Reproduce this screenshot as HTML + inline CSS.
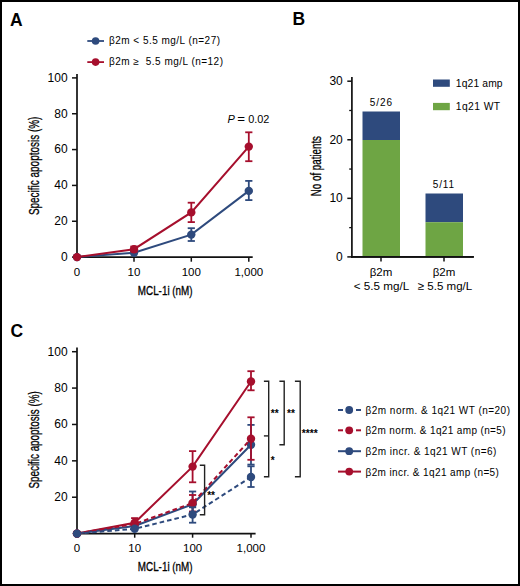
<!DOCTYPE html>
<html><head><meta charset="utf-8"><style>
html,body{margin:0;padding:0;background:#fff;}
#wrap{position:relative;width:520px;height:586px;overflow:hidden;background:#fff;}
#bd{position:absolute;left:0;top:0;width:516px;height:582px;border:2px solid #000;}
svg{position:absolute;left:0;top:0;}
text{font-family:"Liberation Sans", sans-serif;}
</style></head><body><div id="wrap"><div id="bd"></div>
<svg width="520" height="586" viewBox="0 0 520 586">
<text x="10" y="26" font-size="17.5" text-anchor="start" font-weight="bold" font-style="normal" fill="#000" >A</text>
<line x1="87.3" y1="41" x2="104" y2="41" stroke="#2e4a7d" stroke-width="1.8"/>
<circle cx="95.6" cy="41" r="3.8" fill="#2e4a7d"/>
<text x="109" y="44.2" font-size="10" text-anchor="start" font-weight="normal" font-style="normal" fill="#000" textLength="111" lengthAdjust="spacing" >β2m &lt; 5.5 mg/L (n=27)</text>
<line x1="87.3" y1="62.1" x2="104" y2="62.1" stroke="#a60f2d" stroke-width="1.8"/>
<circle cx="95.6" cy="62.1" r="3.8" fill="#a60f2d"/>
<text x="109" y="64.6" font-size="10" text-anchor="start" font-weight="normal" font-style="normal" fill="#000" textLength="114" lengthAdjust="spacing" >β2m ≥&#160; 5.5 mg/L (n=12)</text>
<line x1="77.0" y1="74" x2="77.0" y2="257.95000000000005" stroke="#111" stroke-width="1.7"/>
<line x1="76.15" y1="257.1" x2="252.7" y2="257.1" stroke="#111" stroke-width="1.7"/>
<line x1="72" y1="257.1" x2="77.0" y2="257.1" stroke="#111" stroke-width="1.5"/>
<text x="67.6" y="261.0" font-size="12" text-anchor="end" font-weight="normal" font-style="normal" fill="#000" >0</text>
<line x1="72" y1="221.26000000000002" x2="77.0" y2="221.26000000000002" stroke="#111" stroke-width="1.5"/>
<text x="67.6" y="225.16000000000003" font-size="12" text-anchor="end" font-weight="normal" font-style="normal" fill="#000" >20</text>
<line x1="72" y1="185.42000000000002" x2="77.0" y2="185.42000000000002" stroke="#111" stroke-width="1.5"/>
<text x="67.6" y="189.32000000000002" font-size="12" text-anchor="end" font-weight="normal" font-style="normal" fill="#000" >40</text>
<line x1="72" y1="149.58000000000004" x2="77.0" y2="149.58000000000004" stroke="#111" stroke-width="1.5"/>
<text x="67.6" y="153.48000000000005" font-size="12" text-anchor="end" font-weight="normal" font-style="normal" fill="#000" >60</text>
<line x1="72" y1="113.74000000000001" x2="77.0" y2="113.74000000000001" stroke="#111" stroke-width="1.5"/>
<text x="67.6" y="117.64000000000001" font-size="12" text-anchor="end" font-weight="normal" font-style="normal" fill="#000" >80</text>
<line x1="72" y1="77.9" x2="77.0" y2="77.9" stroke="#111" stroke-width="1.5"/>
<text x="67.6" y="81.80000000000001" font-size="12" text-anchor="end" font-weight="normal" font-style="normal" fill="#000" >100</text>
<text x="77.0" y="276.1" font-size="11.5" text-anchor="middle" font-weight="normal" font-style="normal" fill="#000" >0</text>
<line x1="134" y1="257.1" x2="134" y2="261.7" stroke="#111" stroke-width="1.5"/>
<text x="134" y="276.1" font-size="11.5" text-anchor="middle" font-weight="normal" font-style="normal" fill="#000" >10</text>
<line x1="191.3" y1="257.1" x2="191.3" y2="261.7" stroke="#111" stroke-width="1.5"/>
<text x="191.3" y="276.1" font-size="11.5" text-anchor="middle" font-weight="normal" font-style="normal" fill="#000" >100</text>
<line x1="248.8" y1="257.1" x2="248.8" y2="261.7" stroke="#111" stroke-width="1.5"/>
<text x="248.8" y="276.1" font-size="11.5" text-anchor="middle" font-weight="normal" font-style="normal" fill="#000" >1,000</text>
<text x="165.2" y="295.2" font-size="13" text-anchor="middle" font-weight="normal" font-style="normal" fill="#000" textLength="54.8" lengthAdjust="spacingAndGlyphs"  stroke="#000" stroke-width="0.3">MCL-1i (nM)</text>
<text transform="translate(39.0,165.85) rotate(-90)" x="0" y="0" font-size="14" stroke="#000" stroke-width="0.3" text-anchor="middle" fill="#000" textLength="98.5" lengthAdjust="spacingAndGlyphs">Specific apoptosis (%)</text>
<line x1="191.3" y1="228.2" x2="191.3" y2="241" stroke="#2e4a7d" stroke-width="1.8"/>
<line x1="187.70000000000002" y1="228.2" x2="194.9" y2="228.2" stroke="#2e4a7d" stroke-width="1.8"/>
<line x1="187.70000000000002" y1="241" x2="194.9" y2="241" stroke="#2e4a7d" stroke-width="1.8"/>
<line x1="248.8" y1="180.9" x2="248.8" y2="200.1" stroke="#2e4a7d" stroke-width="1.8"/>
<line x1="245.20000000000002" y1="180.9" x2="252.4" y2="180.9" stroke="#2e4a7d" stroke-width="1.8"/>
<line x1="245.20000000000002" y1="200.1" x2="252.4" y2="200.1" stroke="#2e4a7d" stroke-width="1.8"/>
<polyline points="77.0,257.1 134,252.7 191.3,234.6 248.8,190.9" fill="none" stroke="#2e4a7d" stroke-width="2"/>
<circle cx="77.0" cy="257.1" r="4.2" fill="#2e4a7d"/>
<circle cx="134" cy="252.7" r="4.2" fill="#2e4a7d"/>
<circle cx="191.3" cy="234.6" r="4.2" fill="#2e4a7d"/>
<circle cx="248.8" cy="190.9" r="4.2" fill="#2e4a7d"/>
<line x1="134" y1="246.5" x2="134" y2="251.5" stroke="#a60f2d" stroke-width="1.8"/>
<line x1="130.4" y1="246.5" x2="137.6" y2="246.5" stroke="#a60f2d" stroke-width="1.8"/>
<line x1="130.4" y1="251.5" x2="137.6" y2="251.5" stroke="#a60f2d" stroke-width="1.8"/>
<line x1="191.3" y1="202.7" x2="191.3" y2="222.1" stroke="#a60f2d" stroke-width="1.8"/>
<line x1="187.70000000000002" y1="202.7" x2="194.9" y2="202.7" stroke="#a60f2d" stroke-width="1.8"/>
<line x1="187.70000000000002" y1="222.1" x2="194.9" y2="222.1" stroke="#a60f2d" stroke-width="1.8"/>
<line x1="248.8" y1="132.3" x2="248.8" y2="161.2" stroke="#a60f2d" stroke-width="1.8"/>
<line x1="245.20000000000002" y1="132.3" x2="252.4" y2="132.3" stroke="#a60f2d" stroke-width="1.8"/>
<line x1="245.20000000000002" y1="161.2" x2="252.4" y2="161.2" stroke="#a60f2d" stroke-width="1.8"/>
<polyline points="77.0,257.1 134,249.2 191.3,212.4 248.8,146.6" fill="none" stroke="#a60f2d" stroke-width="2"/>
<circle cx="77.0" cy="257.1" r="4.2" fill="#a60f2d"/>
<circle cx="134" cy="249.2" r="4.2" fill="#a60f2d"/>
<circle cx="191.3" cy="212.4" r="4.2" fill="#a60f2d"/>
<circle cx="248.8" cy="146.6" r="4.2" fill="#a60f2d"/>
<text x="227.6" y="122.9" font-size="11" text-anchor="start" font-weight="normal" font-style="italic" fill="#000" >P</text>
<text x="237.3" y="122.9" font-size="11" text-anchor="start" font-weight="normal" font-style="normal" fill="#000" textLength="7.8" lengthAdjust="spacingAndGlyphs" >=</text>
<text x="248.2" y="122.9" font-size="11" text-anchor="start" font-weight="normal" font-style="normal" fill="#000" textLength="21.2" lengthAdjust="spacingAndGlyphs" >0.02</text>
<text x="292.5" y="24.8" font-size="17.5" text-anchor="start" font-weight="bold" font-style="normal" fill="#000" >B</text>
<line x1="351.9" y1="77" x2="351.9" y2="257.75" stroke="#111" stroke-width="1.7"/>
<line x1="351.04999999999995" y1="256.9" x2="473.8" y2="256.9" stroke="#111" stroke-width="1.7"/>
<line x1="347.3" y1="256.9" x2="351.9" y2="256.9" stroke="#111" stroke-width="1.5"/>
<text x="342.8" y="260.79999999999995" font-size="12" text-anchor="end" font-weight="normal" font-style="normal" fill="#000" >0</text>
<line x1="347.3" y1="198.33333333333331" x2="351.9" y2="198.33333333333331" stroke="#111" stroke-width="1.5"/>
<text x="342.8" y="202.23333333333332" font-size="12" text-anchor="end" font-weight="normal" font-style="normal" fill="#000" >10</text>
<line x1="347.3" y1="139.76666666666665" x2="351.9" y2="139.76666666666665" stroke="#111" stroke-width="1.5"/>
<text x="342.8" y="143.66666666666666" font-size="12" text-anchor="end" font-weight="normal" font-style="normal" fill="#000" >20</text>
<line x1="347.3" y1="81.19999999999999" x2="351.9" y2="81.19999999999999" stroke="#111" stroke-width="1.5"/>
<text x="342.8" y="85.1" font-size="12" text-anchor="end" font-weight="normal" font-style="normal" fill="#000" >30</text>
<line x1="349.2" y1="227.61666666666665" x2="351.9" y2="227.61666666666665" stroke="#111" stroke-width="1.3"/>
<line x1="349.2" y1="169.04999999999998" x2="351.9" y2="169.04999999999998" stroke="#111" stroke-width="1.3"/>
<line x1="349.2" y1="110.48333333333332" x2="351.9" y2="110.48333333333332" stroke="#111" stroke-width="1.3"/>
<rect x="362.5" y="111.5" width="37.5" height="28.5" fill="#2e4a7d"/>
<rect x="362.5" y="140.0" width="37.5" height="116.89999999999998" fill="#6ea544"/>
<rect x="425.5" y="193.5" width="37.5" height="28.7" fill="#2e4a7d"/>
<rect x="425.5" y="222.2" width="37.5" height="34.69999999999999" fill="#6ea544"/>
<line x1="351.04999999999995" y1="256.9" x2="473.8" y2="256.9" stroke="#111" stroke-width="1.7"/>
<line x1="381" y1="256.9" x2="381" y2="261.5" stroke="#111" stroke-width="1.5"/>
<line x1="444" y1="256.9" x2="444" y2="261.5" stroke="#111" stroke-width="1.5"/>
<text x="380.8" y="106.3" font-size="10" text-anchor="middle" font-weight="normal" font-style="normal" fill="#000" textLength="22.3" lengthAdjust="spacing" >5/26</text>
<text x="443.4" y="188.4" font-size="10" text-anchor="middle" font-weight="normal" font-style="normal" fill="#000" textLength="21.3" lengthAdjust="spacing" >5/11</text>
<text x="381" y="276.0" font-size="11.5" text-anchor="middle" font-weight="normal" font-style="normal" fill="#000" >β2m</text>
<text x="381.5" y="290.3" font-size="11.5" text-anchor="middle" font-weight="normal" font-style="normal" fill="#000" textLength="55.4" lengthAdjust="spacingAndGlyphs" >&lt; 5.5 mg/L</text>
<text x="444" y="276.0" font-size="11.5" text-anchor="middle" font-weight="normal" font-style="normal" fill="#000" >β2m</text>
<text x="445" y="290.3" font-size="11.5" text-anchor="middle" font-weight="normal" font-style="normal" fill="#000" textLength="54.5" lengthAdjust="spacingAndGlyphs" >≥ 5.5 mg/L</text>
<text transform="translate(321.0,166.1) rotate(-90)" x="0" y="0" font-size="14" stroke="#000" stroke-width="0.3" text-anchor="middle" fill="#000" textLength="60.2" lengthAdjust="spacingAndGlyphs">No of patients</text>
<rect x="433" y="79.5" width="16.8" height="7.3" fill="#2e4a7d"/>
<rect x="433" y="102.9" width="16.8" height="7.3" fill="#6ea544"/>
<text x="455.8" y="86.6" font-size="10.3" text-anchor="start" font-weight="normal" font-style="normal" fill="#000" textLength="46.8" lengthAdjust="spacing" >1q21 amp</text>
<text x="455.8" y="109.6" font-size="10.3" text-anchor="start" font-weight="normal" font-style="normal" fill="#000" textLength="44.3" lengthAdjust="spacing" >1q21 WT</text>
<text x="10.5" y="337" font-size="17.5" text-anchor="start" font-weight="bold" font-style="normal" fill="#000" >C</text>
<line x1="77.0" y1="347.5" x2="77.0" y2="534.45" stroke="#111" stroke-width="1.7"/>
<line x1="76.15" y1="533.6" x2="255.6" y2="533.6" stroke="#111" stroke-width="1.7"/>
<line x1="72" y1="497.22" x2="77.0" y2="497.22" stroke="#111" stroke-width="1.5"/>
<text x="67.6" y="501.12" font-size="12" text-anchor="end" font-weight="normal" font-style="normal" fill="#000" >20</text>
<line x1="72" y1="460.84000000000003" x2="77.0" y2="460.84000000000003" stroke="#111" stroke-width="1.5"/>
<text x="67.6" y="464.74" font-size="12" text-anchor="end" font-weight="normal" font-style="normal" fill="#000" >40</text>
<line x1="72" y1="424.46" x2="77.0" y2="424.46" stroke="#111" stroke-width="1.5"/>
<text x="67.6" y="428.35999999999996" font-size="12" text-anchor="end" font-weight="normal" font-style="normal" fill="#000" >60</text>
<line x1="72" y1="388.08" x2="77.0" y2="388.08" stroke="#111" stroke-width="1.5"/>
<text x="67.6" y="391.97999999999996" font-size="12" text-anchor="end" font-weight="normal" font-style="normal" fill="#000" >80</text>
<line x1="72" y1="351.7" x2="77.0" y2="351.7" stroke="#111" stroke-width="1.5"/>
<text x="67.6" y="355.59999999999997" font-size="12" text-anchor="end" font-weight="normal" font-style="normal" fill="#000" >100</text>
<text x="77.0" y="552.4" font-size="11.5" text-anchor="middle" font-weight="normal" font-style="normal" fill="#000" >0</text>
<line x1="134.7" y1="533.6" x2="134.7" y2="537.7" stroke="#111" stroke-width="1.5"/>
<text x="134.7" y="552.4" font-size="11.5" text-anchor="middle" font-weight="normal" font-style="normal" fill="#000" >10</text>
<line x1="192.6" y1="533.6" x2="192.6" y2="537.7" stroke="#111" stroke-width="1.5"/>
<text x="192.6" y="552.4" font-size="11.5" text-anchor="middle" font-weight="normal" font-style="normal" fill="#000" >100</text>
<line x1="251" y1="533.6" x2="251" y2="537.7" stroke="#111" stroke-width="1.5"/>
<text x="251" y="552.4" font-size="11.5" text-anchor="middle" font-weight="normal" font-style="normal" fill="#000" >1,000</text>
<text x="165.2" y="571.0" font-size="13" text-anchor="middle" font-weight="normal" font-style="normal" fill="#000" textLength="54.8" lengthAdjust="spacingAndGlyphs"  stroke="#000" stroke-width="0.3">MCL-1i (nM)</text>
<text transform="translate(38.8,439.9) rotate(-90)" x="0" y="0" font-size="14" stroke="#000" stroke-width="0.3" text-anchor="middle" fill="#000" textLength="97.2" lengthAdjust="spacingAndGlyphs">Specific apoptosis (%)</text>
<line x1="134.7" y1="518.1" x2="134.7" y2="527" stroke="#a60f2d" stroke-width="1.8"/>
<line x1="131.1" y1="518.1" x2="138.29999999999998" y2="518.1" stroke="#a60f2d" stroke-width="1.8"/>
<line x1="131.1" y1="527" x2="138.29999999999998" y2="527" stroke="#a60f2d" stroke-width="1.8"/>
<line x1="192.6" y1="451.1" x2="192.6" y2="482.3" stroke="#a60f2d" stroke-width="1.8"/>
<line x1="189.0" y1="451.1" x2="196.2" y2="451.1" stroke="#a60f2d" stroke-width="1.8"/>
<line x1="189.0" y1="482.3" x2="196.2" y2="482.3" stroke="#a60f2d" stroke-width="1.8"/>
<line x1="251" y1="371.2" x2="251" y2="390.3" stroke="#a60f2d" stroke-width="1.8"/>
<line x1="247.4" y1="371.2" x2="254.6" y2="371.2" stroke="#a60f2d" stroke-width="1.8"/>
<line x1="247.4" y1="390.3" x2="254.6" y2="390.3" stroke="#a60f2d" stroke-width="1.8"/>
<polyline points="77.0,533.6 134.7,522.7 192.6,466.6 251,381.5" fill="none" stroke="#a60f2d" stroke-width="2"/>
<circle cx="77.0" cy="533.6" r="4.2" fill="#a60f2d"/>
<circle cx="134.7" cy="522.7" r="4.2" fill="#a60f2d"/>
<circle cx="192.6" cy="466.6" r="4.2" fill="#a60f2d"/>
<circle cx="251" cy="381.5" r="4.2" fill="#a60f2d"/>
<line x1="192.6" y1="491.5" x2="192.6" y2="512" stroke="#2e4a7d" stroke-width="1.8"/>
<line x1="189.0" y1="491.5" x2="196.2" y2="491.5" stroke="#2e4a7d" stroke-width="1.8"/>
<line x1="189.0" y1="512" x2="196.2" y2="512" stroke="#2e4a7d" stroke-width="1.8"/>
<line x1="251" y1="424.9" x2="251" y2="464.6" stroke="#2e4a7d" stroke-width="1.8"/>
<line x1="247.4" y1="424.9" x2="254.6" y2="424.9" stroke="#2e4a7d" stroke-width="1.8"/>
<line x1="247.4" y1="464.6" x2="254.6" y2="464.6" stroke="#2e4a7d" stroke-width="1.8"/>
<polyline points="77.0,533.6 134.7,526.0 192.6,504.3 251,444.7" fill="none" stroke="#2e4a7d" stroke-width="2"/>
<circle cx="77.0" cy="533.6" r="4.2" fill="#2e4a7d"/>
<circle cx="134.7" cy="526.0" r="4.2" fill="#2e4a7d"/>
<circle cx="192.6" cy="504.3" r="4.2" fill="#2e4a7d"/>
<circle cx="251" cy="444.7" r="4.2" fill="#2e4a7d"/>
<line x1="192.6" y1="495.0" x2="192.6" y2="511.5" stroke="#a60f2d" stroke-width="1.8"/>
<line x1="189.0" y1="495.0" x2="196.2" y2="495.0" stroke="#a60f2d" stroke-width="1.8"/>
<line x1="189.0" y1="511.5" x2="196.2" y2="511.5" stroke="#a60f2d" stroke-width="1.8"/>
<line x1="251" y1="417.3" x2="251" y2="459.8" stroke="#a60f2d" stroke-width="1.8"/>
<line x1="247.4" y1="417.3" x2="254.6" y2="417.3" stroke="#a60f2d" stroke-width="1.8"/>
<line x1="247.4" y1="459.8" x2="254.6" y2="459.8" stroke="#a60f2d" stroke-width="1.8"/>
<polyline points="77.0,533.6 134.7,524.0 192.6,503.0 251,438.8" fill="none" stroke="#a60f2d" stroke-width="2" stroke-dasharray="4.6 3"/>
<circle cx="77.0" cy="533.6" r="4.2" fill="#a60f2d"/>
<circle cx="134.7" cy="524.0" r="4.2" fill="#a60f2d"/>
<circle cx="192.6" cy="503.0" r="4.2" fill="#a60f2d"/>
<circle cx="251" cy="438.8" r="4.2" fill="#a60f2d"/>
<line x1="192.6" y1="507.3" x2="192.6" y2="522.7" stroke="#2e4a7d" stroke-width="1.8"/>
<line x1="189.0" y1="507.3" x2="196.2" y2="507.3" stroke="#2e4a7d" stroke-width="1.8"/>
<line x1="189.0" y1="522.7" x2="196.2" y2="522.7" stroke="#2e4a7d" stroke-width="1.8"/>
<line x1="251" y1="466.3" x2="251" y2="487.0" stroke="#2e4a7d" stroke-width="1.8"/>
<line x1="247.4" y1="466.3" x2="254.6" y2="466.3" stroke="#2e4a7d" stroke-width="1.8"/>
<line x1="247.4" y1="487.0" x2="254.6" y2="487.0" stroke="#2e4a7d" stroke-width="1.8"/>
<polyline points="77.0,533.6 134.7,528.8 192.6,514.5 251,477" fill="none" stroke="#2e4a7d" stroke-width="2" stroke-dasharray="4.6 3"/>
<circle cx="77.0" cy="533.6" r="4.2" fill="#2e4a7d"/>
<circle cx="134.7" cy="528.8" r="4.2" fill="#2e4a7d"/>
<circle cx="192.6" cy="514.5" r="4.2" fill="#2e4a7d"/>
<circle cx="251" cy="477" r="4.2" fill="#2e4a7d"/>
<polyline points="199.8,465.3 204.6,465.3 204.6,514.8 199.8,514.8" fill="none" stroke="#222" stroke-width="1.4"/>
<text x="211.1" y="499.0" font-size="10" text-anchor="middle" font-weight="bold" font-style="normal" fill="#000" textLength="7.9" lengthAdjust="spacingAndGlyphs" >**</text>
<polyline points="263.9,381.2 268.7,381.2 268.7,476.8 263.9,476.8" fill="none" stroke="#222" stroke-width="1.4"/>
<line x1="263.9" y1="435.9" x2="268.7" y2="435.9" stroke="#222" stroke-width="1.4"/>
<text x="274.8" y="416.5" font-size="10" text-anchor="middle" font-weight="bold" font-style="normal" fill="#000" textLength="7.9" lengthAdjust="spacingAndGlyphs" >**</text>
<text x="272.8" y="464.2" font-size="10" text-anchor="middle" font-weight="bold" font-style="normal" fill="#000" >*</text>
<polyline points="279.4,381.2 284.2,381.2 284.2,444.7 279.4,444.7" fill="none" stroke="#222" stroke-width="1.4"/>
<text x="290.9" y="416.5" font-size="10" text-anchor="middle" font-weight="bold" font-style="normal" fill="#000" textLength="7.9" lengthAdjust="spacingAndGlyphs" >**</text>
<polyline points="294.9,381.2 300.2,381.2 300.2,476.8 294.9,476.8" fill="none" stroke="#222" stroke-width="1.4"/>
<text x="309.7" y="436.7" font-size="10" text-anchor="middle" font-weight="bold" font-style="normal" fill="#000" textLength="16" lengthAdjust="spacingAndGlyphs" >****</text>
<line x1="338" y1="410" x2="343" y2="410" stroke="#2e4a7d" stroke-width="2"/>
<line x1="356" y1="410" x2="361" y2="410" stroke="#2e4a7d" stroke-width="2"/>
<circle cx="349.2" cy="410" r="3.9" fill="#2e4a7d"/>
<text x="365.5" y="414.0" font-size="10" text-anchor="start" font-weight="normal" font-style="normal" fill="#000" textLength="144.5" lengthAdjust="spacing" >β2m norm. &amp; 1q21 WT (n=20)</text>
<line x1="338" y1="430.3" x2="343" y2="430.3" stroke="#a60f2d" stroke-width="2"/>
<line x1="356" y1="430.3" x2="361" y2="430.3" stroke="#a60f2d" stroke-width="2"/>
<circle cx="349.2" cy="430.3" r="3.9" fill="#a60f2d"/>
<text x="365.5" y="434.3" font-size="10" text-anchor="start" font-weight="normal" font-style="normal" fill="#000" textLength="140" lengthAdjust="spacing" >β2m norm. &amp; 1q21 amp (n=5)</text>
<line x1="338" y1="451.2" x2="361" y2="451.2" stroke="#2e4a7d" stroke-width="2"/>
<circle cx="349.2" cy="451.2" r="3.9" fill="#2e4a7d"/>
<text x="365.5" y="455.2" font-size="10" text-anchor="start" font-weight="normal" font-style="normal" fill="#000" textLength="130.8" lengthAdjust="spacing" >β2m incr. &amp; 1q21 WT (n=6)</text>
<line x1="338" y1="471.6" x2="361" y2="471.6" stroke="#a60f2d" stroke-width="2"/>
<circle cx="349.2" cy="471.6" r="3.9" fill="#a60f2d"/>
<text x="365.5" y="475.6" font-size="10" text-anchor="start" font-weight="normal" font-style="normal" fill="#000" textLength="133.4" lengthAdjust="spacing" >β2m incr. &amp; 1q21 amp (n=5)</text>
</svg></div></body></html>
